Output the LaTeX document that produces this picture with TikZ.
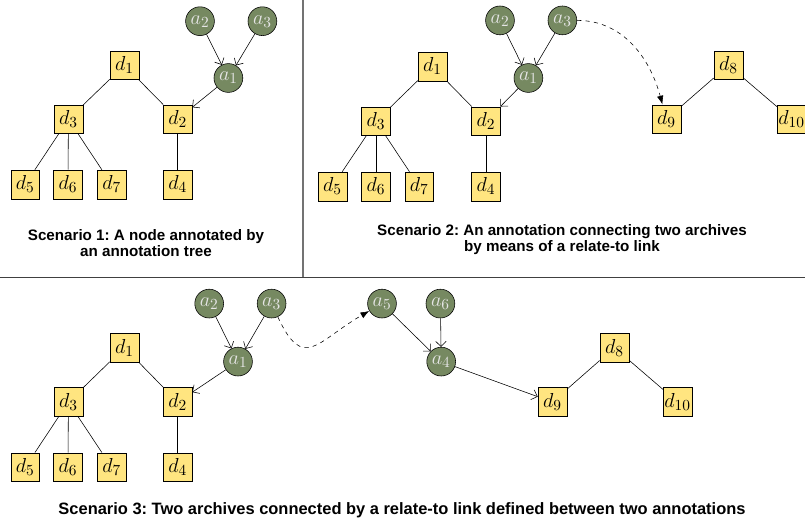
\documentclass[tikz,border=0pt]{standalone}
\usepackage{amsmath}
\usepackage{fontspec}
\setsansfont{Liberation Sans}
\usepackage{tikz}
\usetikzlibrary{arrows, positioning, arrows.meta}

\definecolor{archfill}{RGB}{255,229,128}
\definecolor{annfill}{RGB}{118,137,97}
\frenchspacing

\begin{document}
\begin{tikzpicture}[
    % GLOBAL CFG
    font=\fontsize{15.5}{18}\selectfont,
    >={Straight Barb[length=1.3mm,width=2.6mm]},
    % Styles
    doc/.style={% For the archive nodes d#
        rectangle,
        draw,
        fill=archfill,
        minimum size=0.72cm,
        inner sep=0pt,
        },
    ann/.style={% For the annotation nodes a#
        circle,
        draw,
        fill=annfill,
        text=white!90!black,
        minimum size=0.72cm,
        inner sep=0pt,
        },
    caption/.style={% Scenario texts
        font=\sffamily\bfseries\fontsize{10.8}{11.5}\selectfont,
        align=center,
        },
    sep/.style={% Lines between the scenarios
        draw=black!55,
        line width=0.8pt,
        },
    relate/.style={% Relate-to links
        dashed,
        -{Latex[length=2.2mm,width=1.6mm]},
        }
    ]
    \useasboundingbox (0,0) rectangle (20.125,-13.025);

%Scenario 1
    % Archive, named s1d#
    \node [doc] (s1d1) at (3.11,-1.63) {$d_1$};
    \node [doc] (s1d3) at (1.71,-2.98) {$d_3$};
    \node [doc] (s1d2) at (4.44,-2.98) {$d_2$};
    \node [doc] (s1d5) at (0.63,-4.61) {$d_5$};
    \node [doc] (s1d6) at (1.70,-4.61) {$d_6$};
    \node [doc] (s1d7) at (2.79,-4.61) {$d_7$};
    \node [doc] (s1d4) at (4.44,-4.61) {$d_4$};
    % Annotations, named s1a#
    \node [ann] (s1a2) at (5.00,-0.53) {$a_2$};
    \node [ann] (s1a3) at (6.56,-0.53) {$a_3$};
    \node [ann] (s1a1) at (5.71,-1.95) {$a_1$};

    \draw (s1d1) -- (s1d3);
    \draw (s1d1) -- (s1d2);
    \draw (s1d3) -- (s1d5);
    \draw (s1d3) -- (s1d6);
    \draw (s1d3) -- (s1d7);
    \draw (s1d2) -- (s1d4);
    \draw [->] (s1a2) -- (s1a1);
    \draw [->] (s1a3) -- (s1a1);
    \draw [->] (s1a1) -- (s1d2);

    \node [caption] (cap1) at (3.65,-6.08) {Scenario 1: A node annotated by\\an annotation tree};

%Scenario 2
    % Archives, named s2d#
    \node [doc] (s2d1) at (10.81,-1.66) {$d_1$};
    \node [doc] (s2d3) at (9.40,-3.03) {$d_3$};
    \node [doc] (s2d2) at (12.15,-3.03) {$d_2$};
    \node [doc] (s2d5) at (8.31,-4.66) {$d_5$};
    \node [doc] (s2d6) at (9.40,-4.66) {$d_6$};
    \node [doc] (s2d7) at (10.48,-4.66) {$d_7$};
    \node [doc] (s2d4) at (12.15,-4.66) {$d_4$};
    \node [doc] (s2d8) at (18.21,-1.63) {$d_8$};
    \node [doc] (s2d9) at (16.66,-2.98) {$d_9$};
    \node [doc] (s2d10) at (19.79,-2.98) {$d_{10}$};
    % Annotations, named s2a#
    \node [ann] (s2a2) at (12.50,-0.51) {$a_2$};
    \node [ann] (s2a3) at (14.06,-0.51) {$a_3$};
    \node [ann] (s2a1) at (13.21,-1.95) {$a_1$};

    \draw (s2d1) -- (s2d3);
    \draw (s2d1) -- (s2d2);
    \draw (s2d3) -- (s2d5);
    \draw (s2d3) -- (s2d6);
    \draw (s2d3) -- (s2d7);
    \draw (s2d2) -- (s2d4);
    \draw (s2d8) -- (s2d9);
    \draw (s2d8) -- (s2d10);
    \draw [->] (s2a2) -- (s2a1);
    \draw [->] (s2a3) -- (s2a1);
    \draw [->] (s2a1) -- (s2d2);
    \draw [relate] (s2a3) to[out=0, in=105] (s2d9);

    \node [caption] (cap2) at (14.05,-5.98) {Scenario 2: An annotation connecting two archives\\by means of a relate-to link};

%Scenario 3
    % Archives, named s3d#
    \node [doc] (s3d1) at (3.11,-8.69) {$d_1$};
    \node [doc] (s3d3) at (1.71,-10.05) {$d_3$};
    \node [doc] (s3d2) at (4.44,-10.05) {$d_2$};
    \node [doc] (s3d5) at (0.63,-11.68) {$d_5$};
    \node [doc] (s3d6) at (1.70,-11.68) {$d_6$};
    \node [doc] (s3d7) at (2.79,-11.68) {$d_7$};
    \node [doc] (s3d4) at (4.44,-11.68) {$d_4$};
    \node [doc] (s3d8) at (15.36,-8.69) {$d_8$};
    \node [doc] (s3d9) at (13.81,-10.05) {$d_9$};
    \node [doc] (s3d10) at (16.94,-10.05) {$d_{10}$};
    % Annotations, named s3a#
    \node [ann] (s3a2) at (5.23,-7.59) {$a_2$};
    \node [ann] (s3a3) at (6.79,-7.59) {$a_3$};
    \node [ann] (s3a1) at (5.95,-9.04) {$a_1$};
    \node [ann] (s3a5) at (9.55,-7.59) {$a_5$};
    \node [ann] (s3a6) at (11.01,-7.59) {$a_6$};
    \node [ann] (s3a4) at (11.03,-9.04) {$a_4$};

    \draw (s3d1) -- (s3d3);
    \draw (s3d1) -- (s3d2);
    \draw (s3d3) -- (s3d5);
    \draw (s3d3) -- (s3d6);
    \draw (s3d3) -- (s3d7);
    \draw (s3d2) -- (s3d4);
    \draw (s3d8) -- (s3d9);
    \draw (s3d8) -- (s3d10);
    \draw [->] (s3a2) -- (s3a1);
    \draw [->] (s3a3) -- (s3a1);
    \draw [->] (s3a1) -- (s3d2);
    \draw [->] (s3a5) -- (s3a4);
    \draw [->] (s3a6) -- (s3a4);
    \draw [->] (s3a4) -- (s3d9);
    \draw [relate] (s3a3) to[out=-65, in=210, looseness=1.7] (s3a5);

    \node [caption, font=\sffamily\bfseries\fontsize{11.7}{13}\selectfont] (cap3) at (10.05,-12.75) {Scenario 3: Two archives connected by a relate-to link defined between two annotations};

    % Separators
    \coordinate (top) at (7.575,0);
    \coordinate (mid) at (7.575,-6.93);
    \coordinate (left) at (0,-6.93);
    \coordinate (right) at (20.125,-6.93);
    \draw [sep] (top) -- (mid);
    \draw [sep, draw=black!75] (left) -- (right);

\end{tikzpicture}
\end{document}
